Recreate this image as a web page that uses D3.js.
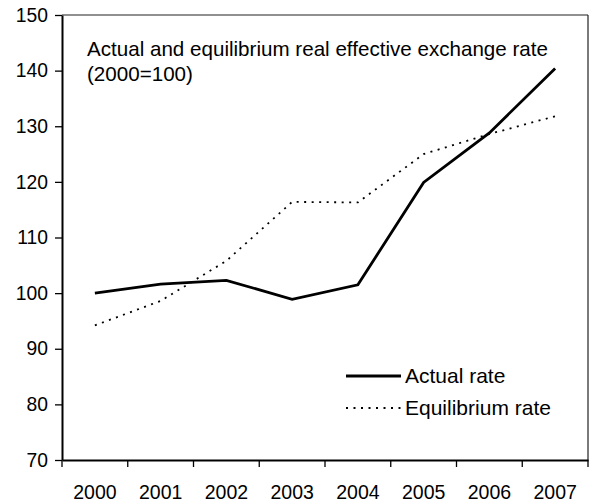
<!DOCTYPE html>
<html>
<head>
<meta charset="utf-8">
<script src="https://cdn.jsdelivr.net/npm/d3@7"></script>
<style>
  html, body { margin: 0; padding: 0; background: #fff; }
  svg { display: block; font-family: Arial, "Liberation Sans", sans-serif; }
</style>
</head>
<body>
<svg id="chart" width="591" height="504"></svg>
<script>
const years = ["2000", "2001", "2002", "2003", "2004", "2005", "2006", "2007"];
const actualRate = [100.0, 101.6, 102.3, 98.9, 101.5, 119.9, 128.8, 140.4];
const equilibriumRate = [94.2, 98.6, 105.8, 116.4, 116.3, 125.0, 128.6, 131.8];
const yTicks = [70, 80, 90, 100, 110, 120, 130, 140, 150];
const seriesNames = ["Actual rate", "Equilibrium rate"];
const noteLines = ["Actual and equilibrium real effective exchange rate", "(2000=100)"];

const svg = d3.select("#chart");
const pLeft = 62, pRight = 588, pTop = 15, pBottom = 460;

const x = d3.scaleBand().domain(years).range([pLeft, pRight]).padding(0);
const y = d3.scaleLinear().domain([70, 150]).range([pBottom, pTop]);
const cx = d => x(d) + x.bandwidth() / 2;

// frame: top and right borders
svg.append("line").attr("x1", pLeft).attr("x2", pRight).attr("y1", pTop).attr("y2", pTop)
  .attr("stroke", "#222").attr("stroke-width", 1.2);
svg.append("line").attr("x1", pRight).attr("x2", pRight).attr("y1", pTop).attr("y2", pBottom)
  .attr("stroke", "#222").attr("stroke-width", 1.2);

// y axis
const yAxis = d3.axisLeft(y).tickValues(yTicks).tickSizeInner(7).tickSizeOuter(0).tickPadding(7);
const gy = svg.append("g").attr("transform", `translate(${pLeft},0)`).call(yAxis);
gy.select(".domain").attr("stroke", "#000").attr("stroke-width", 2);
gy.selectAll(".tick line").attr("stroke", "#000").attr("stroke-width", 1.3);
gy.selectAll(".tick text").attr("font-size", 19.3).attr("fill", "#000")
  .attr("font-family", "Arial, 'Liberation Sans', sans-serif");

// x axis (labels centred in bands, ticks at band edges)
const xAxis = d3.axisBottom(x).tickSize(0).tickPadding(25);
const gx = svg.append("g").attr("transform", `translate(0,${pBottom})`).call(xAxis);
gx.select(".domain").attr("stroke", "#000").attr("stroke-width", 2);
gx.selectAll(".tick text").attr("font-size", 19.5).attr("fill", "#000")
  .attr("font-family", "Arial, 'Liberation Sans', sans-serif");
const edges = years.map(d => x(d)).concat([x(years[years.length - 1]) + x.bandwidth()]);
gx.selectAll("line.edge").data(edges).enter().append("line").attr("class", "edge")
  .attr("x1", d => d).attr("x2", d => d).attr("y1", 0).attr("y2", 7)
  .attr("stroke", "#000").attr("stroke-width", 1.3);

// lines
const lineGen = vals => d3.line().x((v, i) => cx(years[i])).y(v => y(v))(vals);
svg.append("path").attr("d", lineGen(equilibriumRate))
  .attr("fill", "none").attr("stroke", "#000").attr("stroke-width", 1.8)
  .attr("stroke-dasharray", "2,5.5");
svg.append("path").attr("d", lineGen(actualRate))
  .attr("fill", "none").attr("stroke", "#000").attr("stroke-width", 2.8)
  .attr("stroke-linejoin", "miter");

// note
const note = svg.append("text").attr("x", 87).attr("y", 56).attr("font-size", 20.6).attr("fill", "#000");
noteLines.forEach((t, i) => {
  note.append("tspan").attr("x", 87).attr("dy", i === 0 ? 0 : 25).text(t);
});

// legend
const legY = [376, 408];
const lg = svg.append("g");
seriesNames.forEach((name, i) => {
  lg.append("line").attr("x1", 346).attr("x2", 401).attr("y1", legY[i]).attr("y2", legY[i])
    .attr("stroke", "#000")
    .attr("stroke-width", i === 0 ? 2.8 : 1.8)
    .attr("stroke-dasharray", i === 0 ? null : "2,5.5");
  lg.append("text").attr("x", 405).attr("y", legY[i]).attr("dy", "0.35em")
    .attr("font-size", 21).attr("fill", "#000").text(name);
});
</script>
</body>
</html>
